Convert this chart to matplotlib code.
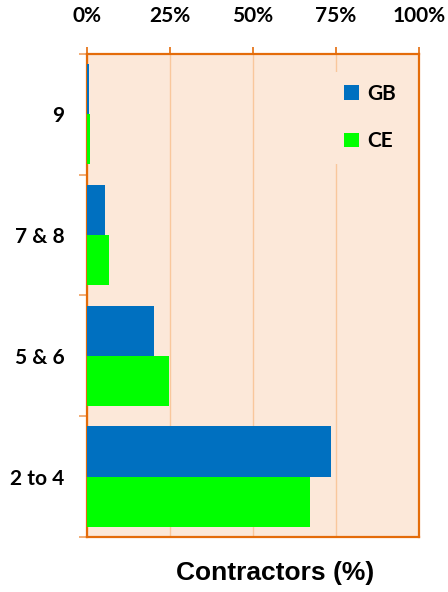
import numpy as np
import matplotlib.pyplot as plt
from matplotlib.ticker import PercentFormatter, FixedLocator

# data
categories = ['9', '7 & 8', '5 & 6', '2 to 4']
gb_values = [0.7, 5.4, 20.3, 73.6]
ce_values = [0.9, 6.7, 24.7, 67.3]
x_ticks = [0, 25, 50, 75, 100]

bg_col = '#FCE8D9'
edge_col = '#E46C0A'
grid_col = '#F9C79C'
gb_col = '#0070C0'
ce_col = '#00FF00'

plt.rcParams['font.family'] = ['Lato', 'DejaVu Sans']

fig = plt.figure(figsize=(4.48, 5.92), dpi=100)
ax = fig.add_axes([0.194, 0.093, 0.741, 0.816])
ax.set_facecolor(bg_col)

y = np.arange(len(categories))
h = 0.415
ax.barh(y - h / 2, gb_values, height=h, color=gb_col, label='GB', zorder=3)
ax.barh(y + h / 2, ce_values, height=h, color=ce_col, label='CE', zorder=3)

ax.set_xlim(0, 100)
ax.set_ylim(len(categories) - 0.5, -0.5)

# x axis on top
ax.xaxis.tick_top()
ax.set_xticks(x_ticks)
ax.xaxis.set_major_formatter(PercentFormatter(decimals=0))
ax.tick_params(axis='x', which='major', length=5, width=1.2, color=edge_col,
               pad=15, labelsize=15)
for t in ax.get_xticklabels():
    t.set_fontweight('bold')

# y axis: labels at centres, tick marks at boundaries
ax.set_yticks(y)
ax.set_yticklabels(categories, fontsize=15, fontweight='bold')
ax.yaxis.set_minor_locator(FixedLocator(np.arange(-0.5, len(categories), 1.0)))
ax.tick_params(axis='y', which='major', length=0, pad=16)
ax.tick_params(axis='y', which='minor', length=6, width=1.2, color='#F0A060')

ax.grid(axis='x', color=grid_col, linewidth=1, zorder=0)
ax.set_axisbelow(True)
for s in ax.spines.values():
    s.set_color(edge_col)
    s.set_linewidth(1.6)

ax.set_xlabel('Contractors (%)', fontsize=19, fontweight='bold',
              family=['Liberation Sans', 'DejaVu Sans'])
ax.xaxis.set_label_position('bottom')
ax.xaxis.set_label_coords(0.566, -0.05)

leg = ax.legend(loc='upper right', bbox_to_anchor=(1.0, 0.985), frameon=True,
                facecolor=bg_col, edgecolor='none', framealpha=1,
                handlelength=0.7, handleheight=0.7, handletextpad=0.4,
                labelspacing=1.3, borderpad=0.6,
                prop={'size': 15, 'weight': 'bold'})

plt.savefig('out.png', dpi=100)
